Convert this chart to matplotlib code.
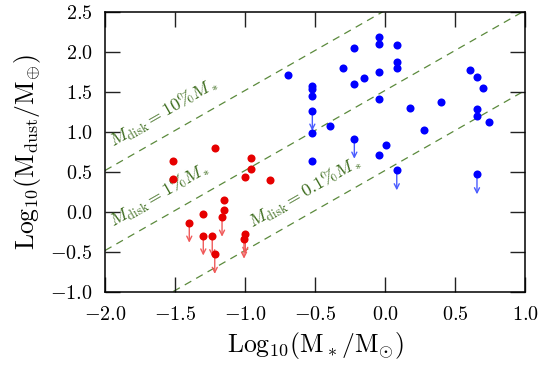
import numpy as np
import matplotlib
matplotlib.use("Agg")
import matplotlib.pyplot as plt
from matplotlib.ticker import FuncFormatter

plt.rcParams['font.family'] = 'serif'
plt.rcParams['font.serif'] = ['cmr10', 'DejaVu Serif']
plt.rcParams['mathtext.fontset'] = 'cm'
plt.rcParams['axes.unicode_minus'] = True

# Red sample: detections
red_x = [-1.516, -1.516, -1.216, -0.955, -0.955, -0.998, -0.821, -1.15, -1.15, -1.298]
red_y = [0.645, 0.42, 0.80, 0.68, 0.54, 0.44, 0.40, 0.154, 0.03, -0.02]
# Red sample: upper limits
red_ul_x = [-1.164, -1.398, -1.298, -1.234, -1.216, -0.998, -1.007]
red_ul_y = [-0.055, -0.13, -0.29, -0.30, -0.52, -0.27, -0.33]

# Blue sample: detections
blue_x = [-0.695, -0.519, -0.519, -0.519, -0.519, -0.519, -0.393, -0.298, -0.219,
          -0.219, -0.15, -0.043, -0.043, -0.043, -0.043, -0.043, 0.005, 0.084,
          0.084, 0.084, 0.179, 0.281, 0.402, 0.605, 0.657, 0.702, 0.657, 0.657, 0.745]
blue_y = [1.716, 1.58, 1.54, 1.45, 0.99, 0.645, 1.08, 1.81, 2.06,
          1.60, 1.675, 2.195, 2.11, 1.76, 1.42, 0.72, 0.845, 2.09,
          1.88, 1.80, 1.30, 1.03, 1.375, 1.78, 1.695, 1.56, 1.29, 1.21, 1.125]
# Blue sample: upper limits
blue_ul_x = [-0.519, -0.219, 0.084, 0.657]
blue_ul_y = [1.27, 0.92, 0.525, 0.475]

arrow_len = 0.25

# Disk mass fractions (dust-to-gas 1/100), log offsets from log10(M*/Msun)
disk_fracs = [0.10, 0.01, 0.001]
disk_labels = [r'$M_{\rm disk}{=}10\%M_*$', r'$M_{\rm disk}{=}1\%M_*$', r'$M_{\rm disk}{=}0.1\%M_*$']
label_x = [-1.94, -1.94, -0.95]
log_msun_mearth = np.log10(333000.0)

xticks = [-2.0, -1.5, -1.0, -0.5, 0.0, 0.5, 1.0]
yticks = [-1.0, -0.5, 0.0, 0.5, 1.0, 1.5, 2.0, 2.5]

fig = plt.figure(figsize=(5.55, 3.73), dpi=100)
ax = fig.add_axes([105/555, 1-292.3/373, 420/555, 280/373])
ax.set_xlim(-2.0, 1.0)
ax.set_ylim(-1.0, 2.5)

line_color = '#5b8a3c'
text_color = '#3a6a1a'
xx = np.array([-2.0, 1.0])
# screen angle of a slope-1 line in data coordinates
p0 = ax.transData.transform((0.0, 0.0))
p1 = ax.transData.transform((1.0, 1.0))
angle = np.degrees(np.arctan2(p1[1] - p0[1], p1[0] - p0[0]))
for frac, lab, lx in zip(disk_fracs, disk_labels, label_x):
    off = log_msun_mearth + np.log10(frac) - 2.0
    ax.plot(xx, xx + off, ls=(0, (6, 4.5)), color=line_color, lw=0.9, zorder=1)
    ax.text(lx, lx + off + 0.23, lab, color=text_color, fontsize=13,
            rotation=angle, rotation_mode='anchor',
            ha='left', va='baseline', zorder=2)

red_arrow = '#f05a5a'
blue_arrow = '#4a5cff'
for x, y in zip(red_ul_x, red_ul_y):
    ax.annotate('', xy=(x, y - arrow_len), xytext=(x, y),
                arrowprops=dict(arrowstyle='->', color=red_arrow, lw=1.0,
                                mutation_scale=9, shrinkA=0, shrinkB=0), zorder=3)
for x, y in zip(blue_ul_x, blue_ul_y):
    ax.annotate('', xy=(x, y - arrow_len), xytext=(x, y),
                arrowprops=dict(arrowstyle='->', color=blue_arrow, lw=1.0,
                                mutation_scale=9, shrinkA=0, shrinkB=0), zorder=3)

ax.plot(red_x + red_ul_x, red_y + red_ul_y, 'o', color='#e60000', ms=5.8, mec='none', zorder=4)
ax.plot(blue_x + blue_ul_x, blue_y + blue_ul_y, 'o', color='#0000ff', ms=5.8, mec='none', zorder=4)

ax.set_xticks(xticks)
ax.set_yticks(yticks)
fmt = FuncFormatter(lambda v, p: r'$\mathrm{%.1f}$' % v)
ax.xaxis.set_major_formatter(fmt)
ax.yaxis.set_major_formatter(fmt)
ax.tick_params(direction='in', length=10.5, width=1.0, top=True, right=True,
               labelsize=14.5, color='#222222')
ax.tick_params(axis='x', pad=10)
ax.tick_params(axis='y', pad=9)
for s in ax.spines.values():
    s.set_linewidth(1.1)

ax.set_xlabel(r'$\mathrm{Log_{10}(M_*/M_{\odot})}$', fontsize=18.5, labelpad=4)
ax.set_ylabel(r'$\mathrm{Log_{10}(M_{dust}/M_{\oplus})}$', fontsize=18.5, labelpad=5)

fig.savefig('out.png', dpi=100)
